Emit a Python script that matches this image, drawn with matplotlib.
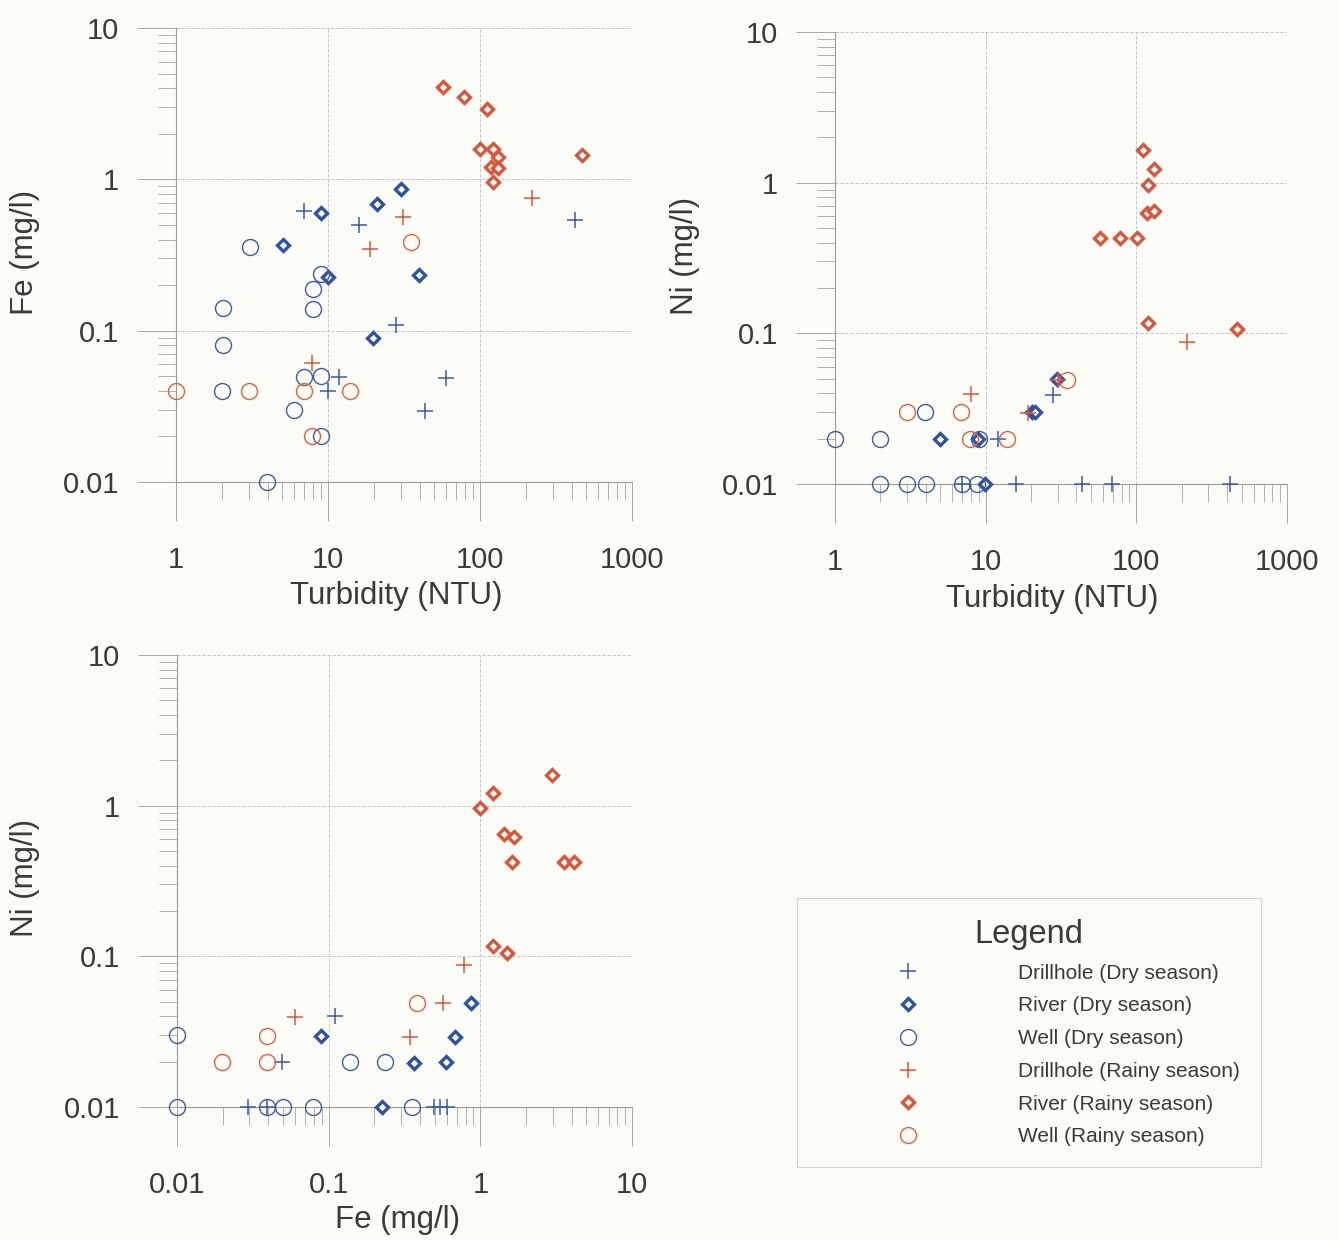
import numpy as np
import matplotlib
matplotlib.use("Agg")
import matplotlib.pyplot as plt
from matplotlib.ticker import FixedLocator, LogLocator, FuncFormatter, NullFormatter

plt.rcParams['font.family'] = ['Liberation Sans', 'DejaVu Sans']

# ---- panel 1: turbidity (NTU) vs Fe (mg/l)
p1_drill_dry_x = [6.95, 16.1, 27.9, 11.9, 9.96, 59.7, 43.5, 422]
p1_drill_dry_y = [0.618, 0.499, 0.109, 0.0496, 0.040, 0.0489, 0.0296, 0.538]
p1_river_dry_x = [9.0, 21.1, 30.2, 5.03, 10.05, 39.9, 19.9]
p1_river_dry_y = [0.596, 0.684, 0.859, 0.368, 0.2275, 0.233, 0.0889]
p1_well_dry_x = [3.07, 2.03, 2.03, 2.0, 9.0, 8.0, 8.0, 6.95, 9.0, 6.0, 9.0, 3.99]
p1_well_dry_y = [0.359, 0.1406, 0.0804, 0.04, 0.237, 0.1885, 0.139, 0.0496, 0.05, 0.0299, 0.02, 0.01]
p1_drill_rainy_x = [31, 18.9, 7.9, 221]
p1_drill_rainy_y = [0.561, 0.345, 0.0608, 0.75]
p1_river_rainy_x = [57.4, 78.9, 110.7, 100, 122, 131, 119, 132, 121, 471]
p1_river_rainy_y = [4.09, 3.52, 2.90, 1.58, 1.59, 1.40, 1.21, 1.18, 0.965, 1.45]
p1_well_rainy_x = [1.0, 3.0, 6.95, 13.9, 35.2, 7.9]
p1_well_rainy_y = [0.04, 0.04, 0.04, 0.04, 0.384, 0.0201]

# ---- panel 2: turbidity (NTU) vs Ni (mg/l)
p2_drill_dry_x = [6.94, 12, 15.9, 27.9, 43.5, 68.7, 420]
p2_drill_dry_y = [0.01, 0.02, 0.01, 0.039, 0.01, 0.01, 0.01]
p2_river_dry_x = [4.98, 8.95, 9.9, 20.2, 21.3, 29.7]
p2_river_dry_y = [0.02, 0.02, 0.01, 0.03, 0.03, 0.05]
p2_well_dry_x = [1, 1.99, 3.96, 2, 3, 4, 7, 8.7, 9]
p2_well_dry_y = [0.02, 0.02, 0.03, 0.01, 0.01, 0.01, 0.01, 0.01, 0.02]
p2_drill_rainy_x = [8.0, 218, 19, 30.4]
p2_drill_rainy_y = [0.0395, 0.087, 0.0296, 0.049]
p2_river_rainy_x = [111, 130, 120, 117.5, 130, 57.5, 78, 100.7, 119, 469]
p2_river_rainy_y = [1.64, 1.23, 0.964, 0.625, 0.651, 0.428, 0.428, 0.428, 0.117, 0.1066]
p2_well_rainy_x = [3.0, 6.9, 7.9, 13.8, 34.5]
p2_well_rainy_y = [0.03, 0.03, 0.02, 0.02, 0.049]

# ---- panel 3: Fe (mg/l) vs Ni (mg/l)
p3_drill_dry_x = [0.0294, 0.039, 0.049, 0.110, 0.492, 0.544, 0.603]
p3_drill_dry_y = [0.01, 0.01, 0.02, 0.04, 0.01, 0.01, 0.01]
p3_river_dry_x = [0.089, 0.226, 0.363, 0.593, 0.684, 0.871]
p3_river_dry_y = [0.0297, 0.01, 0.0195, 0.02, 0.029, 0.0487]
p3_well_dry_x = [0.01, 0.01, 0.039, 0.0497, 0.079, 0.139, 0.236, 0.354]
p3_well_dry_y = [0.03, 0.01, 0.01, 0.01, 0.01, 0.02, 0.02, 0.01]
p3_drill_rainy_x = [0.0596, 0.564, 0.345, 0.775]
p3_drill_rainy_y = [0.0397, 0.0487, 0.0292, 0.0875]
p3_river_rainy_x = [2.99, 1.22, 1.0, 1.44, 1.66, 1.61, 3.57, 4.16, 1.22, 1.51]
p3_river_rainy_y = [1.60, 1.22, 0.96, 0.648, 0.622, 0.425, 0.425, 0.425, 0.1175, 0.106]
p3_well_rainy_x = [0.0198, 0.039, 0.039, 0.382]
p3_well_rainy_y = [0.02, 0.0297, 0.02, 0.0487]

labels = ['Drillhole (Dry season)', 'River (Dry season)', 'Well (Dry season)',
          'Drillhole (Rainy season)', 'River (Rainy season)', 'Well (Rainy season)']

BLUE = '#3d5aa8'
RED = '#d9553b'
TXT = '#3a3a3a'
BG = '#fcfcf7'
W, H = 1339, 1240

styles = [
    dict(marker='+', color=BLUE, ms=11.5, mew=1.1),
    dict(marker='D', color='#2f53a3', ms=6.3, mew=2.4, mfc='white'),
    dict(marker='o', color=BLUE, ms=11.5, mew=1.0, mfc='none'),
    dict(marker='+', color=RED, ms=11.5, mew=1.1),
    dict(marker='D', color=RED, ms=6.3, mew=2.4, mfc='white'),
    dict(marker='o', color='#e0603f', ms=11.5, mew=1.0, mfc='none'),
]

fig = plt.figure(figsize=(W / 100, H / 100), dpi=100, facecolor=BG)


def make_axes(l, r, t, b):
    return fig.add_axes([l / W, 1 - b / H, (r - l) / W, (b - t) / H])


def style_axes(ax, xlim, ylim):
    ax.set_facecolor(BG)
    ax.set_xscale('log')
    ax.set_yscale('log')
    ax.set_xlim(*xlim)
    ax.set_ylim(*ylim)
    ax.spines['top'].set_visible(False)
    ax.spines['right'].set_visible(False)
    for s in ('left', 'bottom'):
        ax.spines[s].set_color('#9a9a9a')
        ax.spines[s].set_linewidth(0.8)
    fmt = FuncFormatter(lambda v, p: '%g' % v)
    xmaj = [10.0 ** k for k in range(int(np.log10(xlim[0])), int(np.log10(xlim[1])) + 1)]
    ymaj = [10.0 ** k for k in range(int(np.log10(ylim[0])), int(np.log10(ylim[1])) + 1)]
    ax.xaxis.set_major_locator(FixedLocator(xmaj))
    ax.yaxis.set_major_locator(FixedLocator(ymaj))
    ax.xaxis.set_major_formatter(fmt)
    ax.yaxis.set_major_formatter(fmt)
    ax.xaxis.set_minor_locator(LogLocator(base=10, subs=np.arange(2, 10), numticks=20))
    ax.yaxis.set_minor_locator(LogLocator(base=10, subs=np.arange(2, 10), numticks=20))
    ax.xaxis.set_minor_formatter(NullFormatter())
    ax.yaxis.set_minor_formatter(NullFormatter())
    ax.tick_params(which='major', direction='out', length=28, width=0.7,
                   color='#a8a8a8', labelsize=21, labelcolor=TXT)
    ax.tick_params(axis='x', which='major', pad=18)
    ax.tick_params(axis='y', which='major', pad=13)
    ax.tick_params(which='minor', direction='out', length=13, width=0.7, color='#b0b0b0')
    ax.grid(True, which='major', color='#bcbcbc', lw=0.6, ls=(0, (4, 2)))
    ax.set_axisbelow(True)


def draw(ax, series):
    handles = []
    for (x, y), st, lab in zip(series, styles, labels):
        h, = ax.plot(x, y, ls='none', label=lab, clip_on=False, zorder=3, **st)
        handles.append(h)
    return handles


def put_labels(ax, xl, xpos, yl, ypos):
    ax.set_xlabel(xl, fontsize=22.5, color=TXT, va='center')
    ax.xaxis.set_label_coords(xpos[0] / W, 1 - xpos[1] / H, transform=fig.transFigure)
    ax.set_ylabel(yl, fontsize=22.5, color=TXT, va='center')
    ax.yaxis.set_label_coords(ypos[0] / W, 1 - ypos[1] / H, transform=fig.transFigure)


# panel 1
ax1 = make_axes(176, 632, 28, 482)
style_axes(ax1, (1, 1000), (0.01, 10))
handles = draw(ax1, [(p1_drill_dry_x, p1_drill_dry_y), (p1_river_dry_x, p1_river_dry_y),
                     (p1_well_dry_x, p1_well_dry_y), (p1_drill_rainy_x, p1_drill_rainy_y),
                     (p1_river_rainy_x, p1_river_rainy_y), (p1_well_rainy_x, p1_well_rainy_y)])
put_labels(ax1, 'Turbidity (NTU)', (396, 596), 'Fe (mg/l)', (25, 252))

# panel 2
ax2 = make_axes(835, 1287, 32, 484)
style_axes(ax2, (1, 1000), (0.01, 10))
draw(ax2, [(p2_drill_dry_x, p2_drill_dry_y), (p2_river_dry_x, p2_river_dry_y),
           (p2_well_dry_x, p2_well_dry_y), (p2_drill_rainy_x, p2_drill_rainy_y),
           (p2_river_rainy_x, p2_river_rainy_y), (p2_well_rainy_x, p2_well_rainy_y)])
put_labels(ax2, 'Turbidity (NTU)', (1052, 599), 'Ni (mg/l)', (685, 256))

# panel 3
ax3 = make_axes(177, 632, 655, 1107)
style_axes(ax3, (0.01, 10), (0.01, 10))
draw(ax3, [(p3_drill_dry_x, p3_drill_dry_y), (p3_river_dry_x, p3_river_dry_y),
           (p3_well_dry_x, p3_well_dry_y), (p3_drill_rainy_x, p3_drill_rainy_y),
           (p3_river_rainy_x, p3_river_rainy_y), (p3_well_rainy_x, p3_well_rainy_y)])
put_labels(ax3, 'Fe (mg/l)', (398, 1220), 'Ni (mg/l)', (25, 878))

# legend
leg = fig.legend(handles=handles, loc='upper left', bbox_to_anchor=(797 / W, 1 - 898 / H),
                 borderaxespad=0, fontsize=15, title='Legend', title_fontsize=23.5,
                 numpoints=1, handlelength=8.7, handletextpad=0.9, borderpad=1.0,
                 labelspacing=0.66, fancybox=False, frameon=True)
leg.get_frame().set_edgecolor('#c8c8c8')
leg.get_frame().set_linewidth(0.8)
leg.get_frame().set_facecolor(BG)
leg.get_title().set_color(TXT)
for t in leg.get_texts():
    t.set_color(TXT)

fig.savefig('out.png', dpi=100, facecolor=BG)
